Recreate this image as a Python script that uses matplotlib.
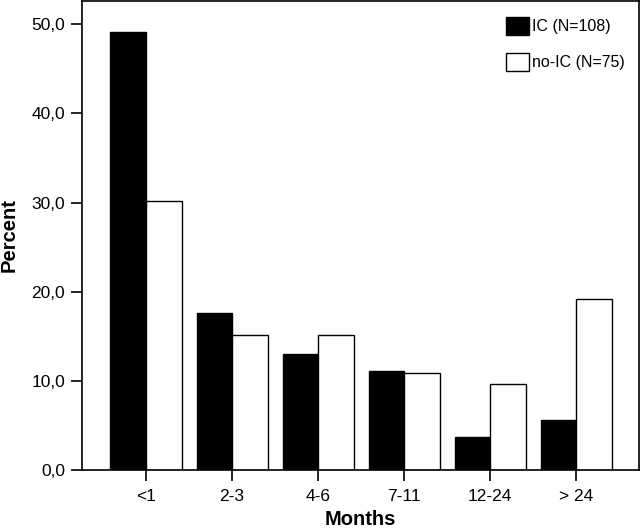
import numpy as np
import matplotlib
matplotlib.use('Agg')
from matplotlib import pyplot as plt
from matplotlib.ticker import FuncFormatter

plt.rcParams['font.family'] = ['Liberation Sans', 'DejaVu Sans']

months = ['<1', '2-3', '4-6', '7-11', '12-24', '> 24']
ic_pct = [49.1, 17.6, 13.0, 11.1, 3.7, 5.6]
noic_pct = [30.2, 15.1, 15.1, 10.9, 9.6, 19.2]
labels = ['IC (N=108)', 'no-IC (N=75)']

fig = plt.figure(figsize=(6.4, 5.31), dpi=100)
ax = fig.add_axes([0.1286, 0.1149, 0.870, 0.883])

x = np.arange(len(months))
w = 0.413
ax.bar(x - w / 2, ic_pct, w, color='black', edgecolor='black', linewidth=1.0, label=labels[0])
ax.bar(x + w / 2, noic_pct, w, color='white', edgecolor='black', linewidth=1.0, label=labels[1])

ax.set_xlim(-0.74, 5.73)
ax.set_ylim(0, 52.6)
ax.set_xticks(x)
ax.set_xticklabels(months)
ax.set_yticks([0, 10, 20, 30, 40, 50])
ax.yaxis.set_major_formatter(FuncFormatter(lambda v, p: '{:.1f}'.format(v).replace('.', ',')))
ax.tick_params(axis='both', direction='out', length=8, width=1.2, labelsize=12.5, pad=4.5)
ax.tick_params(axis='x', pad=6)

for s in ax.spines.values():
    s.set_linewidth(1.2)

ax.set_xlabel('Months', fontsize=14.5, fontweight='bold', labelpad=4)
ax.set_ylabel('Percent', fontsize=14.5, fontweight='bold', labelpad=9)

ax.legend(loc='upper right', bbox_to_anchor=(1.0, 0.997), frameon=False, fontsize=11.5,
          handlelength=1.4, handleheight=1.4, handletextpad=0.2, labelspacing=1.1)

fig.savefig('out.png', dpi=100)
